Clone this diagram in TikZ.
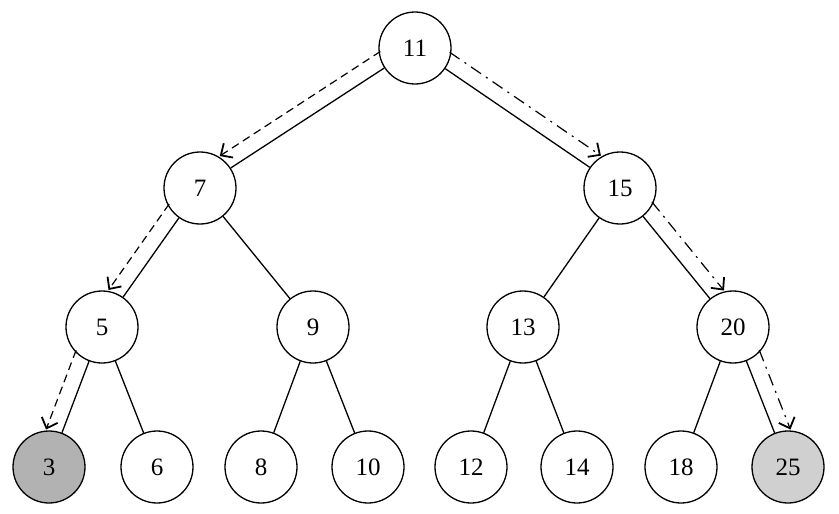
\documentclass[tikz,border=0pt]{standalone}
\usepackage{fontspec}
\setmainfont{Liberation Serif}
\usetikzlibrary{calc,arrows.meta}
\definecolor{darkfill}{RGB}{178,178,178}
\definecolor{lightfill}{RGB}{208,208,208}
\begin{document}
\begin{tikzpicture}[x=1pt,y=-1pt,
  tnode/.style={circle,draw,line width=1.3pt,minimum size=72pt,inner sep=0pt,font=\fontsize{25}{25}\selectfont},
  edge/.style={line width=1.3pt},
  trace/.style={line width=1.2pt,shorten <=31pt,shorten >=34pt,-{Straight Barb[length=9pt,width=17pt,line width=1.8pt]}},
  dsh/.style={trace,dash pattern=on 8pt off 5pt},
  dshdot/.style={trace,dash pattern=on 12pt off 6pt on 2pt off 6pt}]
\useasboundingbox (0,0) rectangle (839,514);
\node[tnode] (n11) at (415,48) {11};
\node[tnode] (n7) at (200,188) {7};
\node[tnode] (n15) at (620,188) {15};
\node[tnode] (n5) at (102,327) {5};
\node[tnode] (n9) at (313,327) {9};
\node[tnode] (n13) at (523,327) {13};
\node[tnode] (n20) at (733,327) {20};
\node[tnode,fill=darkfill] (n3) at (49,467) {3};
\node[tnode] (n6) at (157,467) {6};
\node[tnode] (n8) at (261,467) {8};
\node[tnode] (n10) at (368,467) {10};
\node[tnode] (n12) at (471,467) {12};
\node[tnode] (n14) at (577,467) {14};
\node[tnode] (n18) at (681,467) {18};
\node[tnode,fill=lightfill] (n25) at (788,467) {25};
\foreach \a/\b in {n11/n7,n11/n15,n7/n5,n7/n9,n15/n13,n15/n20,n5/n3,n5/n6,n9/n8,n9/n10,n13/n12,n13/n14,n20/n18,n20/n25}
  \draw[edge] (\a) -- (\b);
% search paths (left: dashed, right: dash-dot)
\foreach \a/\b in {n11/n7,n7/n5,n5/n3}
  \draw[dsh] ($(\a.center)!16pt!-90:(\b.center)$) -- ($(\b.center)!16pt!90:(\a.center)$);
\foreach \a/\b in {n11/n15,n15/n20,n20/n25}
  \draw[dshdot] ($(\a.center)!16pt!90:(\b.center)$) -- ($(\b.center)!16pt!-90:(\a.center)$);
\end{tikzpicture}
\end{document}
